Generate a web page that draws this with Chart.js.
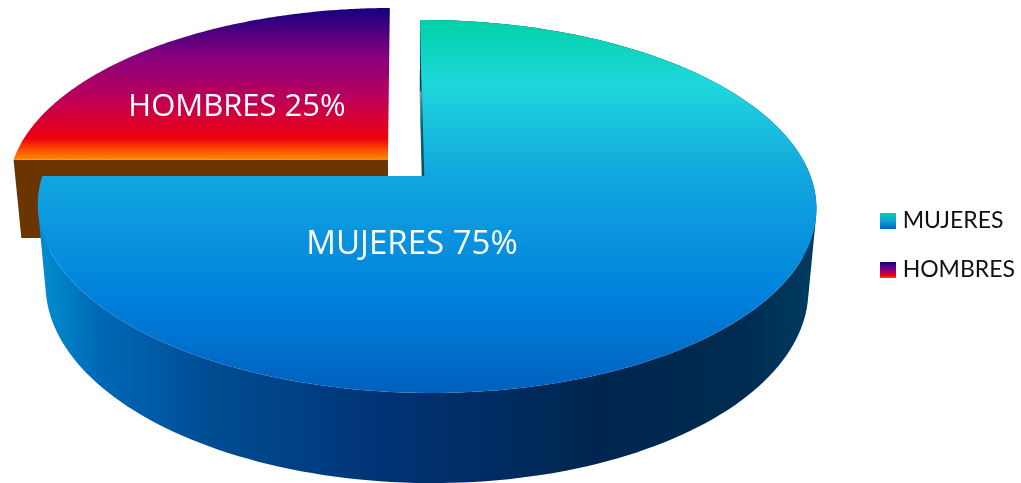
<!DOCTYPE html>
<html>
<head>
<meta charset="utf-8">
<title>Mujeres y hombres</title>
<script src="https://cdn.jsdelivr.net/npm/chart.js@4"></script>
<style>
  html, body { margin: 0; padding: 0; background: #fff; overflow: hidden; }
  canvas { display: block; }
</style>
</head>
<body>
<canvas id="pieChart" width="1021" height="483"></canvas>
<script>
const categories = ["MUJERES", "HOMBRES"];
const shares = [75, 25];

// vertical gradient stops of each top face, [position, colour]
const topStops = [
  [[0, "#00d2a6"], [0.17, "#1fd7dc"], [0.42, "#12a6df"], [0.75, "#0080dc"], [1, "#0060bd"]],
  [[0, "#140080"], [0.33, "#8a007e"], [0.6, "#bd0058"], [0.86, "#ee000f"], [0.93, "#fb4a00"], [1, "#ff8a00"]]
];
const wallStops = [
  [[0, "#0090d0"], [0.08, "#0068b6"], [0.22, "#004c94"], [0.48, "#003070"], [0.72, "#00264f"], [0.9, "#002a50"], [1, "#003c62"]],
  [[0, "#6a3500"], [1, "#6a3500"]]
];

// perspective of the tilted pie: unit disc (u, v) plus depth z -> canvas
const view = { x0: 423, y0: 176, b: 384, a: 181.5, k: 0.1635, m: 0.009, s: 3.5, h: 81.5, n: 0.02 };

function project(u, v, z) {
  const w = 1 - view.k * v - view.m * u + view.n * z;
  return [view.x0 + (view.b * u + view.s * v) / w, view.y0 + (view.a * v + view.h * z) / w];
}

function rimPoints(arc, z) {
  const unitOffset = (arc.options.offset || 0) / arc.outerRadius;
  const mid = (arc.startAngle + arc.endAngle) / 2;
  const ox = Math.cos(mid) * unitOffset;
  const oy = Math.sin(mid) * unitOffset;
  const steps = 180;
  const pts = [];
  for (let i = 0; i <= steps; i++) {
    const a = arc.startAngle + (arc.endAngle - arc.startAngle) * i / steps;
    pts.push(project(Math.cos(a) + ox, Math.sin(a) + oy, z));
  }
  return { pts, center: project(ox, oy, z) };
}

function addPoly(ctx, pts) {
  pts.forEach((p, i) => (i ? ctx.lineTo(p[0], p[1]) : ctx.moveTo(p[0], p[1])));
  ctx.closePath();
}

function fillPath(ctx, pts, fill) {
  ctx.beginPath();
  addPoly(ctx, pts);
  ctx.fillStyle = fill;
  ctx.fill();
}

function signedArea(pts) {
  let sum = 0;
  pts.forEach((p, i) => {
    const q = pts[(i + 1) % pts.length];
    sum += p[0] * q[1] - q[0] * p[1];
  });
  return sum;
}

function gradient(ctx, x0, y0, x1, y1, stops) {
  const g = ctx.createLinearGradient(x0, y0, x1, y1);
  stops.forEach(s => g.addColorStop(s[0], s[1]));
  return g;
}

function bounds(pts) {
  const xs = pts.map(p => p[0]);
  const ys = pts.map(p => p[1]);
  return { left: Math.min(...xs), right: Math.max(...xs), top: Math.min(...ys), bottom: Math.max(...ys) };
}

const pie3d = {
  id: "pie3d",
  beforeDatasetsDraw(chart) {
    const ctx = chart.ctx;
    const arcs = chart.getDatasetMeta(0).data;
    // back slice first, the big one goes over it
    [1, 0].forEach(i => {
      const arc = arcs[i];
      const top = rimPoints(arc, 0);
      const bottom = rimPoints(arc, 1);
      const box = bounds(top.pts.concat([top.center]));
      const wallBox = bounds(top.pts.concat(bottom.pts));
      const wallFill = gradient(ctx, wallBox.left, 0, wallBox.right, 0, wallStops[i]);

      if (i === 0) {
        // outer wall, swept step by step; same winding for all quads or the overlaps cancel
        ctx.beginPath();
        for (let s = 0; s < top.pts.length - 1; s++) {
          const quad = [top.pts[s], top.pts[s + 1], bottom.pts[s + 1], bottom.pts[s]];
          addPoly(ctx, signedArea(quad) < 0 ? quad.reverse() : quad);
        }
        ctx.fillStyle = wallFill;
        ctx.fill();
      } else {
        // only the cut face of the small slice shows
        fillPath(ctx, [top.pts[0], top.center, bottom.center, bottom.pts[0]], wallFill);
      }

      const faceFill = gradient(ctx, 0, box.top, 0, box.bottom, topStops[i]);
      fillPath(ctx, top.pts.concat([top.center]), faceFill);

      // thin dark edge along the upper cut of the big slice
      if (i === 0) {
        const start = top.pts[0];
        ctx.beginPath();
        ctx.moveTo(start[0] + 0.3, start[1] + 50);
        ctx.lineTo(top.center[0], top.center[1]);
        ctx.strokeStyle = gradient(ctx, 0, start[1] + 50, 0, top.center[1], [[0, "rgba(10,90,90,0.2)"], [0.5, "#0b6470"], [1, "#0c4a60"]]);
        ctx.lineWidth = 2.5;
        ctx.stroke();
      }
    });
    return false;
  },
  // datasets are skipped above, so the slice labels go on here
  afterDraw(chart) {
    const ctx = chart.ctx;
    ctx.save();
    ctx.fillStyle = "#fff";
    ctx.textAlign = "center";
    ctx.textBaseline = "middle";
    const anchors = [[412, 245], [237, 107]];
    const sizes = [33, 31];
    categories.forEach((name, i) => {
      ctx.font = sizes[i] + "px 'Comic Sans MS', 'Open Sans', sans-serif";
      ctx.fillText(name + " " + shares[i] + "%", anchors[i][0], anchors[i][1]);
    });
    ctx.restore();
  }
};

function swatch(stops) {
  const c = document.createElement("canvas");
  c.width = 16;
  c.height = 16;
  const g = c.getContext("2d");
  g.fillStyle = gradient(g, 0, 0, 0, 16, stops);
  g.fillRect(0, 0, 16, 16);
  return c;
}

new Chart(document.getElementById("pieChart"), {
  type: "pie",
  data: {
    labels: categories,
    datasets: [{
      data: shares,
      offset: [0, 29],
      borderWidth: 0
    }]
  },
  options: {
    responsive: false,
    animation: false,
    layout: { padding: { right: -4, top: 8 } },
    plugins: {
      tooltip: { enabled: false },
      legend: {
        position: "right",
        labels: {
          usePointStyle: true,
          boxWidth: 6,
          boxHeight: 22,
          padding: 26,
          color: "#111",
          font: { family: "Lato, 'Open Sans', sans-serif", size: 23 },
          generateLabels: () => categories.map((name, i) => ({
            text: name,
            index: i,
            hidden: false,
            fontColor: "#111",
            pointStyle: swatch(i === 0
              ? [[0, "#00d2a6"], [0.5, "#10a0e0"], [1, "#0064c4"]]
              : [[0, "#140080"], [0.5, "#8a007e"], [0.85, "#ee000f"], [1, "#ff5000"]])
          }))
        }
      }
    }
  },
  plugins: [pie3d]
});
</script>
</body>
</html>
